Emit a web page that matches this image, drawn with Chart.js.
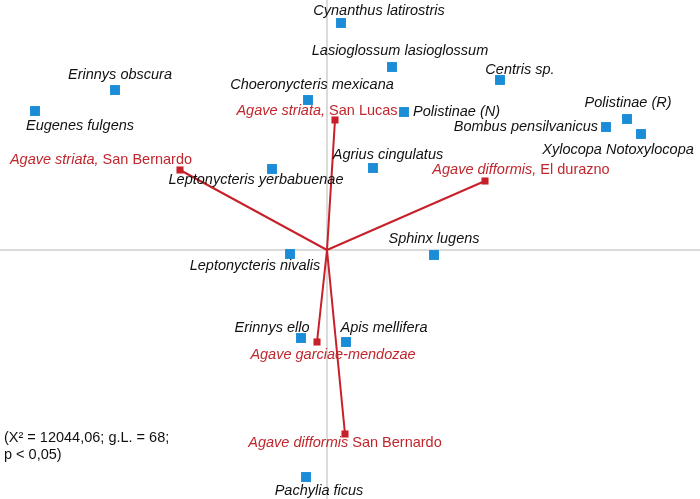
<!DOCTYPE html>
<html>
<head>
<meta charset="utf-8">
<script src="https://cdn.jsdelivr.net/npm/chart.js@4/dist/chart.umd.min.js"></script>
<style>
  html, body { margin: 0; padding: 0; background: #fff; }
  #wrap { width: 700px; height: 499px; position: relative; }
</style>
</head>
<body>
<div id="wrap"><canvas id="caChart"></canvas></div>
<script>
// --- Datos: especies (visitantes florales), coordenadas en las dimensiones 1 y 2
const speciesNames = [
  'Cynanthus latirostris', 'Lasioglossum lasioglossum', 'Centris sp.', 'Erinnys obscura',
  'Eugenes fulgens', 'Choeronycteris mexicana', 'Polistinae (N)', 'Polistinae (R)',
  'Bombus pensilvanicus', 'Xylocopa Notoxylocopa', 'Leptonycteris yerbabuenae',
  'Agrius cingulatus', 'Sphinx lugens', 'Leptonycteris nivalis', 'Erinnys ello',
  'Apis mellifera', 'Pachylia ficus'
];
const speciesDim1 = [0.14, 0.65, 1.73, -2.12, -2.92, -0.19, 0.77, 3.00, 2.79, 3.14, -0.55, 0.46, 1.07, -0.37, -0.26, 0.19, -0.21];
const speciesDim2 = [2.27, 1.83, 1.70, 1.60, 1.39, 1.50, 1.38, 1.31, 1.23, 1.16, 0.81, 0.82, -0.05, -0.04, -0.88, -0.92, -2.27];

// --- Datos: sitios de Agave (italic part + normal part)
const siteItalic = ['Agave striata,', 'Agave striata,', 'Agave difformis,', 'Agave garciae-mendozae', 'Agave difformis'];
const siteNormal = [' San Lucas', ' San Bernardo', ' El durazno', '', ' San Bernardo'];
const siteDim1 = [0.08, -1.47, 1.58, -0.10, 0.18];
const siteDim2 = [1.30, 0.80, 0.69, -0.92, -1.84];

const noteLines = ['(X\u00B2 = 12044,06; g.L. = 68;', 'p < 0,05)'];

// --- Estilo
const BLUE = '#1a8cd8';
const RED = '#c8202a';
const RED_TEXT = '#c0272d';
const FONT = '"Liberation Sans", Arial, sans-serif';
const SIZE = '14.5px ';

// label placement relative to marker: [dx, dy, align]
const speciesLabelPos = [
  [38, -12, 'center'], [8, -16, 'center'], [20, -10, 'center'], [5, -15, 'center'],
  [45, 15, 'center'], [4, -15, 'center'], [9, 0, 'left'], [1, -16, 'center'],
  [-8, 0, 'right'], [-23, 16, 'center'], [-16, 11, 'center'],
  [15, -13, 'center'], [0, -16, 'center'], [-35, 12, 'center'], [-29, -10, 'center'],
  [38, -14, 'center'], [13, 14, 'center']
];
const siteLabelPos = [[-18, -9], [-79, -10], [36, -11], [16, 13], [0, 9]];

const speciesPoints = speciesNames.map((n, i) => ({ x: speciesDim1[i], y: speciesDim2[i] }));

const siteDatasets = siteDim1.map((x, i) => ({
  label: siteItalic[i] + siteNormal[i],
  data: [{ x: 0, y: 0 }, { x: x, y: siteDim2[i] }],
  showLine: true,
  borderColor: RED,
  borderWidth: 2,
  backgroundColor: RED,
  pointStyle: 'rect',
  pointRadius: [0, 5],
  pointBorderWidth: 0,
  order: 1
}));

// ejes cruzando en el origen
const axesPlugin = {
  id: 'originAxes',
  beforeDatasetsDraw(chart) {
    const { ctx, chartArea, scales } = chart;
    const x0 = scales.x.getPixelForValue(0);
    const y0 = scales.y.getPixelForValue(0);
    ctx.save();
    ctx.strokeStyle = '#cfcfcf';
    ctx.lineWidth = 1.5;
    ctx.beginPath();
    ctx.moveTo(chartArea.left, y0);
    ctx.lineTo(chartArea.right, y0);
    ctx.moveTo(x0, chartArea.top);
    ctx.lineTo(x0, chartArea.bottom);
    ctx.stroke();
    ctx.restore();
  }
};

const labelsPlugin = {
  id: 'pointLabels',
  afterDatasetsDraw(chart) {
    const ctx = chart.ctx;
    ctx.save();
    ctx.textBaseline = 'middle';

    // species labels
    const sMeta = chart.getDatasetMeta(0);
    ctx.fillStyle = '#111';
    ctx.font = 'italic ' + SIZE + FONT;
    sMeta.data.forEach((pt, i) => {
      const [dx, dy, align] = speciesLabelPos[i];
      ctx.textAlign = align;
      ctx.fillText(speciesNames[i], pt.x + dx, pt.y + dy);
    });

    // site labels (mixed italic / normal)
    ctx.fillStyle = RED_TEXT;
    ctx.textAlign = 'left';
    siteDim1.forEach((v, i) => {
      const pt = chart.getDatasetMeta(i + 1).data[1];
      ctx.font = 'italic ' + SIZE + FONT;
      const w1 = ctx.measureText(siteItalic[i]).width;
      ctx.font = SIZE + FONT;
      const w2 = ctx.measureText(siteNormal[i]).width;
      const cx = pt.x + siteLabelPos[i][0];
      const cy = pt.y + siteLabelPos[i][1];
      const left = cx - (w1 + w2) / 2;
      ctx.font = 'italic ' + SIZE + FONT;
      ctx.fillText(siteItalic[i], left, cy);
      ctx.font = SIZE + FONT;
      ctx.fillText(siteNormal[i], left + w1, cy);
    });

    // nota estadística
    ctx.fillStyle = '#111';
    ctx.font = SIZE + FONT;
    noteLines.forEach((t, k) => ctx.fillText(t, 4, 438 + k * 17));
    ctx.restore();
  }
};

new Chart(document.getElementById('caChart'), {
  type: 'scatter',
  data: {
    datasets: [{
      label: 'Especies',
      data: speciesPoints,
      backgroundColor: BLUE,
      pointStyle: 'rect',
      pointRadius: 7,
      pointBorderWidth: 0,
      order: 0
    }].concat(siteDatasets)
  },
  options: {
    responsive: true,
    maintainAspectRatio: false,
    animation: false,
    layout: { padding: 0, autoPadding: false },
    plugins: {
      legend: { display: false },
      tooltip: { enabled: false }
    },
    scales: {
      x: { type: 'linear', min: -3.27, max: 3.73, display: false },
      y: { type: 'linear', min: -2.49, max: 2.50, display: false }
    }
  },
  plugins: [axesPlugin, labelsPlugin]
});
</script>
</body>
</html>
